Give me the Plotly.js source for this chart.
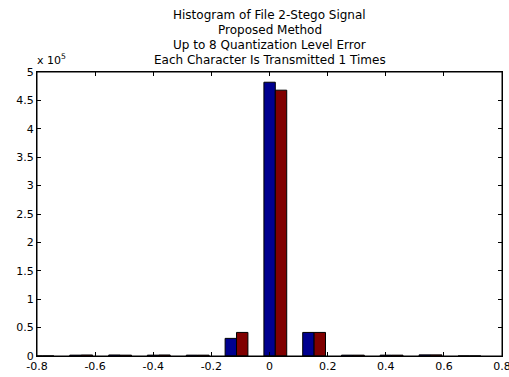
<!DOCTYPE html>
<html>
<head>
<meta charset="utf-8">
<script src="https://cdn.plot.ly/plotly-3.0.1.min.js"></script>
<style>html,body{margin:0;padding:0;background:#fff;}#chart{width:509px;height:377px;}</style>
</head>
<body>
<div id="chart"></div>
<script>
// Bin centers of the histogram
var binCenters = [-0.781, -0.648, -0.514, -0.381, -0.247, -0.1135, 0.02, 0.1535, 0.287, 0.42, 0.554, 0.688];
// Counts per bin (series 1: blue, series 2: dark red)
var seriesBlue = [0, 1500, 1800, 1500, 1500, 31000, 482000, 41500, 1500, 1500, 2000, 0];
var seriesRed  = [0, 1800, 1500, 1800, 1500, 41500, 468000, 41500, 1500, 1500, 2000, 0];
var xTickVals = [-0.8, -0.6, -0.4, -0.2, 0, 0.2, 0.4, 0.6, 0.8];
var xTickText = ['-0.8', '-0.6', '-0.4', '-0.2', '0', '0.2', '0.4', '0.6', '0.8'];
var yTickVals = [0, 50000, 100000, 150000, 200000, 250000, 300000, 350000, 400000, 450000, 500000];
var yTickText = ['0', '0.5', '1', '1.5', '2', '2.5', '3', '3.5', '4', '4.5', '5'];
var titleLines = ['Histogram of File 2-Stego Signal', 'Proposed Method', 'Up to 8 Quantization Level Error', 'Each Character Is Transmitted 1 Times'];

var font = {family: 'DejaVu Sans, sans-serif', size: 11, color: '#000'};
var titleFont = {family: 'DejaVu Sans, sans-serif', size: 12, color: '#000'};
var data = [
  {type: 'bar', x: binCenters, y: seriesBlue, marker: {color: '#00008F', line: {color: '#000', width: 1}}, showlegend: false, hoverinfo: 'none'},
  {type: 'bar', x: binCenters, y: seriesRed, marker: {color: '#800000', line: {color: '#000', width: 1}}, showlegend: false, hoverinfo: 'none'}
];
var axisCommon = {
  showgrid: false, zeroline: false, showline: true, linecolor: '#000', linewidth: 1,
  mirror: 'allticks', ticks: 'inside', ticklen: 4, tickcolor: '#000', tickwidth: 1,
  tickfont: font, fixedrange: true, ticklabeloverflow: 'allow'
};
var titleShifts = [57, 42, 27, 12];
var annotations = titleLines.map(function (t, i) {
  return {text: t, xref: 'paper', yref: 'paper', x: 0.5, y: 1, xanchor: 'center', yanchor: 'middle', yshift: titleShifts[i], showarrow: false, font: titleFont};
});
annotations.push({text: 'x 10<sup>5</sup>', xref: 'paper', yref: 'paper', x: 0, y: 1, xanchor: 'left', yanchor: 'bottom', xshift: -2, yshift: 3, showarrow: false, font: font});
var layout = {
  width: 509, height: 377,
  margin: {l: 37, r: 7, t: 72, b: 21, pad: 0},
  paper_bgcolor: '#fff', plot_bgcolor: '#fff',
  font: font,
  barmode: 'group', bargap: 0.41, bargroupgap: 0,
  xaxis: Object.assign({}, axisCommon, {range: [-0.8, 0.8], tickmode: 'array', tickvals: xTickVals, ticktext: xTickText}),
  yaxis: Object.assign({}, axisCommon, {range: [0, 500000], tickmode: 'array', tickvals: yTickVals, ticktext: yTickText}),
  shapes: [{type: 'rect', xref: 'paper', yref: 'paper', x0: 0, x1: 1, y0: 0, y1: 1, line: {color: '#000', width: 1}, fillcolor: 'rgba(0,0,0,0)', layer: 'above'}],
  annotations: annotations
};
Plotly.newPlot('chart', data, layout, {displayModeBar: false, staticPlot: true});
</script>
</body>
</html>
